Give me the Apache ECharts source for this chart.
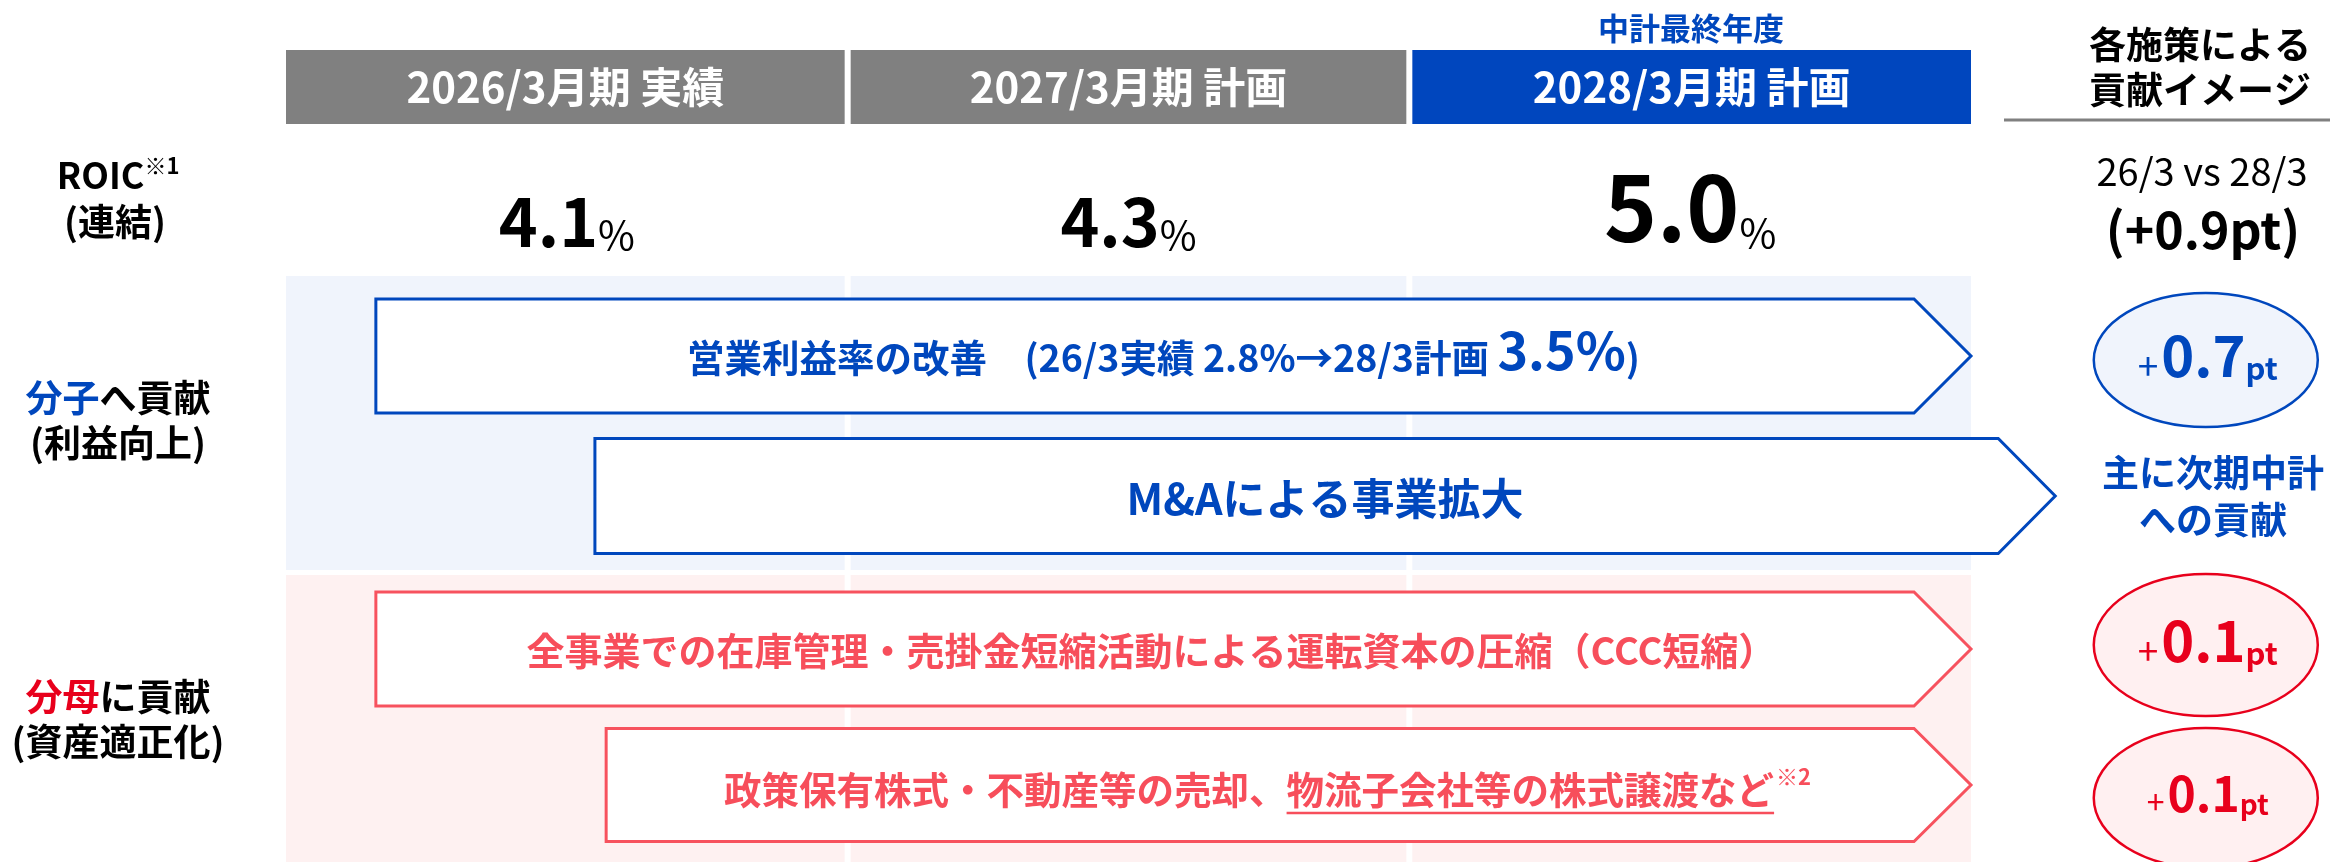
<!DOCTYPE html>
<html lang="ja">
<head>
<meta charset="utf-8">
<title>ROIC 施策別貢献イメージ</title>
<script src="https://cdn.jsdelivr.net/npm/echarts@6/dist/echarts.min.js"></script>
<style>
  html, body { margin: 0; padding: 0; background: #fff; }
  #chart { width: 2330px; height: 862px; }
</style>
</head>
<body>
<div id="chart"></div>
<script>
const FONT = '"Noto Sans CJK JP", "Noto Sans", sans-serif';
const BLUE = '#0047BD';
const RED = '#E8001C';
const RED_SOFT = '#F74E5B';

// 期間とROIC
const periods = ['2026/3月期 実績', '2027/3月期 計画', '2028/3月期 計画'];
const roic = [4.1, 4.3, 5.0];

// 施策（開始・終了は期間軸の位置）
const measureNames = [
  '営業利益率の改善',
  'M&Aによる事業拡大',
  '全事業での在庫管理・売掛金短縮活動による運転資本の圧縮（CCC短縮）',
  '政策保有株式・不動産等の売却、物流子会社等の株式譲渡など'
];
const measureStart = [0.16, 0.55, 0.16, 0.57];
const measureEnd = [3.0, 3.15, 3.0, 3.0];
const measureGroup = ['num', 'num', 'den', 'den'];
const marginActual = 2.8;
const marginPlan = 3.5;

// 各施策による貢献 (pt)
const contribution = [0.7, 0.1, 0.1];
const totalDiff = 0.9;

// レイアウト
const L = {
  headerTop: 50, headerBottom: 124,
  roicY: [222, 222, 208],
  bands: { num: [276, 570], den: [575, 862] },
  laneY: [356, 496, 649, 785],
  laneH: [114, 115, 114, 113],
  tip: 57,
  textSize: [37.5, 43, 38, 37.5],
  textDx: [-10, 0, -22, -22],
  textDy: [-6, 3, 2, 5],
  rightX: 3.418,
  contribY: [360, 645, 798],
  contribR: [[112, 67], [112, 71], [112, 70]],
  contribSize: [56, 56, 48]
};

const ctx = document.createElement('canvas').getContext('2d');
function textWidth(str, size, weight) {
  ctx.font = weight + ' ' + size + 'px ' + FONT;
  return ctx.measureText(str).width;
}

const chart = echarts.init(document.getElementById('chart'));

const bandCells = [];
['num', 'den'].forEach((g, gi) => {
  periods.forEach((p, i) => bandCells.push([i, gi]));
});

function colEdges(api, i, y) {
  const a = api.coord([i, y])[0];
  const b = api.coord([i + 1, y])[0];
  return [a + (i > 0 ? 3 : 0), b - (i < periods.length - 1 ? 3 : 0)];
}

function renderBand(params, api) {
  const i = api.value(0);
  const g = api.value(1) === 0 ? 'num' : 'den';
  const r = L.bands[g];
  const e = colEdges(api, i, r[0]);
  const y0 = api.coord([0, r[0]])[1];
  const y1 = api.coord([0, r[1]])[1];
  return {
    type: 'rect',
    shape: { x: e[0], y: y0, width: e[1] - e[0], height: y1 - y0 },
    style: { fill: g === 'num' ? '#F0F4FC' : '#FEF1F1' }
  };
}

function renderHeader(params, api) {
  const i = api.value(0);
  const e = colEdges(api, i, L.headerTop);
  const y0 = api.coord([0, L.headerTop])[1];
  const y1 = api.coord([0, L.headerBottom])[1];
  return {
    type: 'group',
    children: [
      {
        type: 'rect',
        shape: { x: e[0], y: y0, width: e[1] - e[0], height: y1 - y0 },
        style: { fill: i === periods.length - 1 ? '#0046BE' : '#808080' }
      },
      {
        type: 'text',
        x: (e[0] + e[1]) / 2, y: (y0 + y1) / 2,
        style: {
          text: periods[i], fill: '#fff', fontSize: 42, fontWeight: 'bold',
          fontFamily: FONT, align: 'center', verticalAlign: 'middle'
        }
      }
    ]
  };
}

function renderRoic(params, api) {
  const i = api.value(0);
  const p = api.coord([i + 0.5, L.roicY[i]]);
  const big = i === periods.length - 1;
  const vs = big ? 90 : 66;
  return {
    type: 'text',
    x: p[0], y: p[1],
    style: {
      text: '{v|' + roic[i].toFixed(1) + '}{p|%}',
      align: 'center', verticalAlign: 'middle',
      rich: {
        v: { fontSize: vs, lineHeight: vs, fontWeight: 'bold', fontFamily: FONT, fill: '#000' },
        p: { fontSize: 40, lineHeight: 40, fontWeight: 'normal', fontFamily: FONT, fill: '#000', verticalAlign: 'bottom' }
      }
    }
  };
}

function renderMeasure(params, api) {
  const i = api.value(0);
  const h = L.laneH[i];
  const fs = L.textSize[i];
  const left = api.coord([measureStart[i], L.laneY[i]])[0];
  const tip = api.coord([measureEnd[i], L.laneY[i]])[0];
  const cy = api.coord([0, L.laneY[i]])[1];
  const top = cy - h / 2, bottom = cy + h / 2;
  const bodyEnd = tip - L.tip;
  const isNum = measureGroup[i] === 'num';
  const color = isNum ? BLUE : RED_SOFT;
  const children = [{
    type: 'polygon',
    shape: { points: [[left, top], [bodyEnd, top], [tip, cy], [bodyEnd, bottom], [left, bottom]] },
    style: { fill: '#fff', stroke: isNum ? BLUE : '#F7525E', lineWidth: 3 }
  }];
  const tx = (left + tip) / 2 + L.textDx[i];
  const ty = cy + L.textDy[i];
  if (i === 0) {
    children.push({
      type: 'text', x: tx, y: ty,
      style: {
        text: '{a|' + measureNames[0] + '　(26/3実績 ' + marginActual.toFixed(1) + '%→28/3計画 }{b|' +
          marginPlan.toFixed(1) + '%}{a|)}',
        align: 'center', verticalAlign: 'middle',
        rich: {
          a: { fontSize: fs, lineHeight: fs, fontWeight: 'bold', fontFamily: FONT, fill: color, verticalAlign: 'bottom' },
          b: { fontSize: 52, lineHeight: 52, fontWeight: 'bold', fontFamily: FONT, fill: color }
        }
      }
    });
  } else if (i === 3) {
    const name = measureNames[3];
    const cut = name.indexOf('物流');
    const pre = name.slice(0, cut), under = name.slice(cut);
    const sup = '※2';
    const w1 = textWidth(pre, fs, 'bold');
    const w2 = textWidth(under, fs, 'bold');
    const w3 = textWidth(sup, 22, 'bold');
    const x0 = tx - (w1 + w2 + w3) / 2;
    const base = { fontSize: fs, fontWeight: 'bold', fontFamily: FONT, fill: color, align: 'left', verticalAlign: 'middle' };
    children.push(
      { type: 'text', x: x0, y: ty, style: Object.assign({ text: pre }, base) },
      { type: 'text', x: x0 + w1, y: ty, style: Object.assign({ text: under }, base) },
      { type: 'line', shape: { x1: x0 + w1, y1: ty + 23, x2: x0 + w1 + w2, y2: ty + 23 }, style: { stroke: color, lineWidth: 2.5 } },
      { type: 'text', x: x0 + w1 + w2 + 2, y: ty - 13, style: Object.assign({}, base, { text: sup, fontSize: 22 }) }
    );
  } else {
    children.push({
      type: 'text', x: tx, y: ty,
      style: {
        text: measureNames[i], fill: color, fontSize: fs, fontWeight: 'bold',
        fontFamily: FONT, align: 'center', verticalAlign: 'middle'
      }
    });
  }
  return { type: 'group', children: children };
}

function renderContribution(params, api) {
  const i = api.value(0);
  const c = api.coord([L.rightX, L.contribY[i]]);
  const isNum = i === 0;
  const color = isNum ? BLUE : RED;
  const vs = L.contribSize[i];
  const ss = i === 2 ? 32 : 37;
  const us = i === 2 ? 28 : 31;
  return {
    type: 'group',
    children: [
      {
        type: 'ellipse',
        shape: { cx: c[0], cy: c[1], rx: L.contribR[i][0], ry: L.contribR[i][1] },
        style: { fill: isNum ? '#F0F4FC' : '#FFF0F1', stroke: color, lineWidth: 2.5 }
      },
      {
        type: 'text', x: c[0] + 2, y: c[1] - 4,
        style: {
          text: '{s|+}{v|' + contribution[i].toFixed(1) + '}{u|pt}',
          align: 'center', verticalAlign: 'middle',
          rich: {
            s: { fontSize: ss, lineHeight: Math.round(vs * 0.72), fontFamily: FONT, fill: color, verticalAlign: 'bottom', padding: [0, 3, 0, 0] },
            v: { fontSize: vs, lineHeight: vs, fontWeight: 'bold', fontFamily: FONT, fill: color },
            u: { fontSize: us, lineHeight: us, fontWeight: 'bold', fontFamily: FONT, fill: color, verticalAlign: 'bottom' }
          }
        }
      }
    ]
  };
}

function label(x, y, text, rich) {
  return {
    type: 'text', x: x, y: y,
    style: { text: text, align: 'center', verticalAlign: 'middle', rich: rich }
  };
}
const blk = { fontSize: 37, fontWeight: 'bold', fontFamily: FONT, fill: '#000' };

chart.setOption({
  animation: false,
  grid: { left: 286, right: 359, top: 0, bottom: 0 },
  xAxis: { type: 'value', min: 0, max: 3, show: false },
  yAxis: { type: 'value', min: 0, max: 862, inverse: true, show: false },
  graphic: [
    label(1691, 28, '{a|中計最終年度}', { a: { fontSize: 31, fontWeight: 'bold', fontFamily: FONT, fill: BLUE } }),
    label(2200, 45, '{a|各施策による}', { a: blk }),
    label(2200, 90, '{a|貢献イメージ}', { a: blk }),
    { type: 'line', shape: { x1: 2004, y1: 120, x2: 2330, y2: 120 }, style: { stroke: '#808080', lineWidth: 3 } },
    label(2202, 172, '{a|26/3 vs 28/3}', { a: { fontSize: 38, fontFamily: FONT, fill: '#000' } }),
    label(2203, 230, '{a|(+' + totalDiff.toFixed(1) + 'pt)}', { a: { fontSize: 50, fontWeight: 'bold', fontFamily: FONT, fill: '#000' } }),
    label(2213, 473, '{a|主に次期中計}', { a: Object.assign({}, blk, { fill: BLUE }) }),
    label(2213, 520, '{a|への貢献}', { a: Object.assign({}, blk, { fill: BLUE }) }),
    label(118, 175, '{a|ROIC}{s|※1}', {
      a: { fontSize: 36, lineHeight: 40, fontWeight: 'bold', fontFamily: FONT, fill: '#000' },
      s: { fontSize: 22, lineHeight: 40, fontWeight: 'bold', fontFamily: FONT, fill: '#000', verticalAlign: 'top' }
    }),
    label(115, 222, '{a|(連結)}', { a: blk }),
    label(118, 398, '{b|分子}{a|へ貢献}', { a: blk, b: Object.assign({}, blk, { fill: BLUE }) }),
    label(118, 443, '{a|(利益向上)}', { a: blk }),
    label(118, 697, '{b|分母}{a|に貢献}', { a: blk, b: Object.assign({}, blk, { fill: RED }) }),
    label(118, 742, '{a|(資産適正化)}', { a: blk })
  ],
  series: [
    { type: 'custom', clip: false, data: bandCells, renderItem: renderBand, silent: true },
    { type: 'custom', clip: false, data: periods.map((p, i) => [i]), renderItem: renderHeader, silent: true },
    { type: 'custom', clip: false, data: roic.map((v, i) => [i, v]), renderItem: renderRoic, silent: true },
    { type: 'custom', clip: false, data: measureNames.map((m, i) => [i]), renderItem: renderMeasure, silent: true },
    { type: 'custom', clip: false, data: contribution.map((v, i) => [i, v]), renderItem: renderContribution, silent: true }
  ]
});
</script>
</body>
</html>
